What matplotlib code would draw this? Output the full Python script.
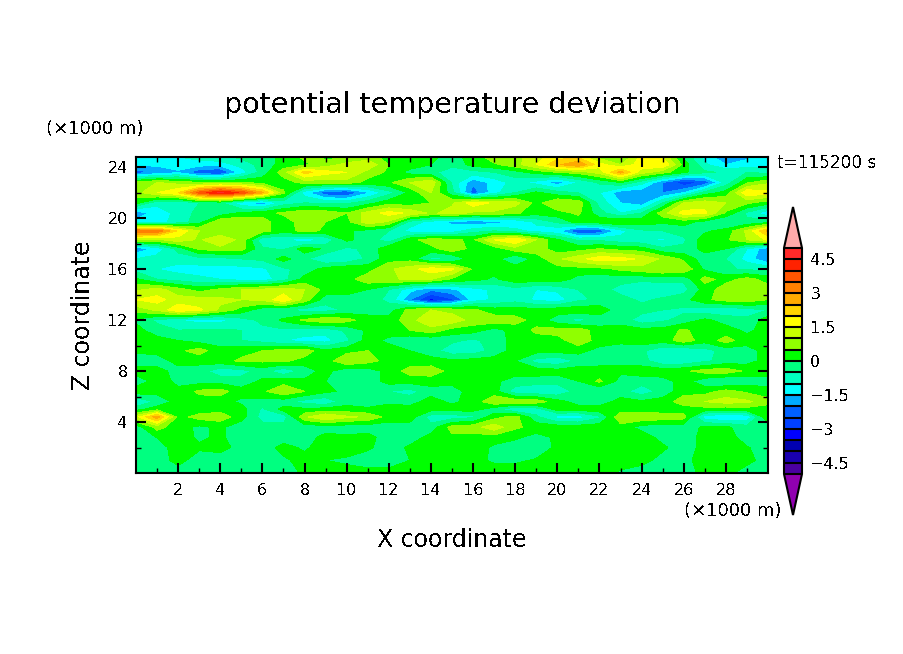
import matplotlib
matplotlib.use("Agg")
import matplotlib.pyplot as plt
import numpy as np

plt.rcParams['text.antialiased'] = False
plt.rcParams['font.family'] = 'DejaVu Sans'

# one row per height (top to bottom), x every 1 km
x_km = list(range(31))
z_km = [24.8, 24.2, 23.6, 22.8, 22, 21.2, 20.4, 19.7, 19, 18.3, 17.6, 16.8, 16, 15.2, 14.4, 13.6, 12.8,
        12, 11.2, 10.4, 9.6, 8.8, 8, 7.2, 6.4, 5.6, 5, 4.4, 3.6, 2.8, 2, 1, 0]
theta = [
    [-1.1, -1.2, -1.0, -.8, -.6, -.4, -.3, .2, .6, .4, .4, .7, .3, .3, .1, -.2, .2, .8, .8, 1.3, 1.8, 1.9, .8, .3, 1.7, 1.4, -.1, -1.2, -1.9, -1.6, -1.3],
    [-1.4, -1.4, -1.2, -1.3, -1.3, -.8, -.3, .2, .4, .7, 1.2, 1.4, .5, .3, 0, -.4, .2, .4, .8, 1.5, 2.4, 3.0, 1.7, 1.0, 1.8, 2.0, .3, -.9, -1.5, -1.3, -1.2],
    [-2.3, -1.9, -1.6, -2.4, -2.6, -1.3, -.3, .8, 2.2, 1.7, 1.5, .8, .4, -.2, -.4, -.7, -.7, -.5, -.2, .2, .5, .7, 1.2, 2.7, 1.2, .7, .1, -.4, -.6, -.5, -.7],
    [.6, 1.0, .8, .5, .5, .5, .3, .2, .7, .7, .8, .3, .4, 1.0, 1.4, -.6, -1.9, -1.3, -.8, -1.2, -1.8, -1.0, -.4, 0, -.8, -2.0, -2.9, -2.4, -.8, .4, .9],
    [.8, 1.5, 2.0, 3.7, 4.6, 3.9, 2.6, .6, -1.3, -2.4, -2.6, -1.6, -.7, .1, 1.0, -.3, -2.3, -1.2, -.5, .1, -.3, -.5, -1.0, -1.8, -1.9, -2.0, -1.5, -.3, .2, 1.9, 1.7],
    [.2, -.9, -1.0, -.5, -.4, -1.4, -1.9, -.8, -.5, -.6, -.6, -.2, .3, .2, .5, .9, 1.8, 1.4, 1.2, .3, 1.0, .8, -.7, -1.5, -1.8, -.5, 1.0, 1.3, 1.0, .6, .2],
    [-1.9, -1.2, -.9, -.3, -.3, .1, .3, .6, .9, .8, .5, 1.2, 1.7, 1.4, .9, 1.2, .9, .9, .6, .2, .3, .6, -.3, -1.0, -.5, .8, 1.7, 1.6, .4, -.6, -1.4],
    [-1.3, -1.2, -.8, -.2, .9, 1.0, .7, .2, .8, .5, .3, 1.3, .9, -.7, -1.2, -1.6, -1.9, -1.7, -1.5, -.9, -.4, .2, .3, .5, .3, .1, .2, -.2, -.6, -.4, -.2],
    [3.5, 3.4, 1.9, 1.0, .5, .8, .7, .2, .7, .4, .1, -.2, -.5, -1.2, -1.5, -1.3, -.7, -.5, -.8, -1.2, -1.4, -2.6, -2.4, -1.2, -.6, -.5, -.3, -.1, .2, 1.1, 2.6],
    [.9, .9, 1.3, .9, 1.5, .8, -.9, -1.0, -1.4, -.9, .1, -.2, -.8, .3, .8, .6, .4, 1.5, 2.0, 1.0, .1, -.6, -.6, -.8, -.9, -1.1, -.6, .3, .4, 1.0, 1.6],
    [-1.9, -1.3, -.3, .6, .8, .7, -.4, -.6, .3, -.1, -.6, -.4, .4, .5, .3, .9, .3, .2, .8, .8, .2, .3, .5, .3, .2, -.4, -.4, .2, 0, -1.0, -1.9],
    [-1.0, -.8, -.8, -.7, -.7, -.5, -.4, .2, -.4, -1.0, -.9, -.4, .3, .3, -.6, -.6, .3, .2, -.5, .2, .9, 1.3, 1.8, 1.7, 1.4, .9, .4, -.3, -.5, -1.2, -2.0],
    [-.7, -1.0, -1.2, -1.2, -1.2, -1.2, -1.1, -.6, -.3, .2, .4, .3, .9, 1.3, 1.8, 1.6, .4, .2, .3, .3, .3, .3, .3, .6, .8, 1.0, .9, -.1, -.4, -.6, -.6],
    [.1, -.5, -.7, -.9, -1.0, -1.2, -1.3, -.7, .2, .3, .3, .8, .9, 1.1, 1.0, .4, .2, -.1, .3, .3, .3, -.2, -.3, -.3, -.4, -.3, -.4, .7, .3, .7, .3],
    [.9, 1.2, .7, .3, .6, 1.0, 1.1, 1.2, 1.0, .3, .2, 0, -.5, -1.3, -1.9, -1.6, -1.2, -.9, -.7, -1.0, -.9, -.5, -.3, -.7, -.9, -.9, -.7, .2, .8, .9, .7],
    [1.5, 1.7, 1.2, 1.2, 1.1, 1.0, 1.1, 1.9, .8, -.3, -.2, -.3, -.6, -2.0, -3.2, -2.6, -1.3, -.9, -.7, -1.1, -1.3, -.6, -.4, -.3, -.6, -.4, -.2, .4, .7, .8, .5],
    [.7, 1.1, 1.9, 1.6, .9, .3, -.3, -.5, -.7, -.7, -.4, -.2, -.3, .7, 1.0, .8, .6, .2, .2, .2, .3, .3, .3, -.3, -.3, -.5, -.6, -.8, -.9, -.7, -.5],
    [-.1, -.6, -1.0, -1.2, -1.2, -.7, -.4, .1, .6, .9, .7, .2, .2, .8, 1.4, 1.3, .8, .8, .7, .3, -.3, -.7, -.3, -.2, -.8, -.6, -.3, .1, -.2, -.4, .3],
    [.2, -.3, -.5, -.4, -.4, -.5, -.6, -.6, -.7, -.8, -.4, .1, .2, .5, .8, .3, .2, -.2, .2, .6, .7, .8, .2, .2, .2, .2, .6, .2, .2, -.1, .2],
    [.3, .2, 0, -.2, -.3, -.5, -.7, -1.0, -1.2, -1.2, -.6, .2, -.1, -.4, -.4, -.4, -.6, -.3, .2, .3, .3, .8, .3, .2, .3, .2, .8, .2, .7, .2, .1],
    [.1, .2, .4, .7, .2, .3, .5, .7, .8, .1, .3, .5, .2, 0, -.3, -.8, -.8, -.3, .2, .2, .2, .2, -.2, -.4, -.4, -.9, -1.0, -.7, -.3, -.2, .2],
    [-.3, -.3, .2, .2, .3, .6, .6, .6, .3, .2, 1.0, .7, .3, .2, .2, .1, .2, .2, 0, -.7, -.9, -.4, -.2, -.1, -.3, -.9, -.9, -.6, -.3, -.2, .2],
    [.2, .2, -.2, -.3, -.8, -.7, -.3, -.9, -.3, .2, -.4, -.3, .2, .7, .8, .3, .2, .3, .2, .3, .2, .3, .2, .1, .3, .3, .4, .7, .8, .4, .2],
    [-.3, .2, -.1, -.2, -.2, -.3, .1, .3, .1, 0, -.2, -.3, .2, .2, .2, .2, .2, .1, -.2, -.3, -.3, 0, .6, -.2, -.3, -.2, .2, -.3, -.6, -.3, -.2],
    [.3, .2, .1, .6, .7, .2, .4, .9, .5, .1, -.1, -.2, -.5, -.7, -.2, -.3, .3, .2, -.8, -.9, -.9, -.3, -.5, -.3, -.8, -.3, .3, .3, .7, .4, .2],
    [-1.0, -.4, .2, .3, .2, -.1, -.2, -.3, -.7, -.9, -.2, -.3, -.1, -.2, .2, -.1, .2, .9, .9, .8, .2, -.2, -.3, .2, .1, .2, .8, 1.0, 1.2, 1.1, .7],
    [-.2, .3, .2, .2, .3, .2, -.6, .2, .1, .2, .2, .1, .2, .2, .2, .2, .2, -.3, -1.0, -.8, .2, .2, .3, .2, .2, .2, .2, .3, .2, .3, .2],
    [1.3, 2.8, .3, .7, .8, .2, -.7, -.8, .9, 1.5, 1.1, .9, .3, .3, -.8, -.8, -.6, .3, .7, -.4, -1.2, -1.3, -.6, .9, .9, .8, .7, -1.3, -1.6, -1.4, .5],
    [-.3, .7, .2, -.1, .1, -.3, -.3, -.3, -.3, -.3, -.3, -.3, -.3, -.3, -.3, .7, .8, 1.3, .6, .3, .3, .3, .3, .3, -.2, -.3, -.3, .1, .1, -.3, -.3],
    [-.3, .02, .3, -.1, .1, -.3, -.3, -.3, -.3, .2, .1, .2, -.3, -.3, .2, .4, .3, .25, .1, -.2, .1, .3, .3, .3, .3, -.2, -.3, .2, .3, -.3, -.3],
    [-.3, -.3, .3, .1, .2, -.2, -.3, .2, -.1, .3, .3, .1, -.3, .1, .3, .3, .3, -.1, -.3, -.3, .1, .3, .3, .3, .3, .1, -.3, .2, .3, .05, -.3],
    [-.3, -.3, .2, -.3, -.3, -.3, -.3, -.1, .2, 0, -.1, -.3, -.3, 0, .3, .3, .2, -.1, -.1, .05, .3, .3, .3, .3, .2, -.2, -.2, .3, .3, .2, -.3],
    [-.3, -.3, -.3, -.3, -.3, -.3, -.3, -.3, .1, .2, .2, .2, .2, .3, .3, .3, .3, .3, .3, .3, .3, .3, .3, -.1, -.3, -.3, -.3, .2, .2, -.3, -.3],
]
levels = np.arange(-5, 5.5, 0.5)
band_colors = ['#4b00a0', '#1a00b0', '#0000b0', '#0000ff', '#0040ff', '#0060ff', '#00aaff', '#00ffff',
               '#00ffc0', '#00ff80', '#00ff00', '#90ff00', '#c8ff00', '#ffff00', '#ffd500', '#ffaa00',
               '#ff8000', '#ff5500', '#ff2200', '#ff2a2a']
cbar_ticks = [-4.5, -3, -1.5, 0, 1.5, 3, 4.5]
W, H = 904, 654


def box(x0, y0, x1, y1):
    return [x0 / W, 1 - y1 / H, (x1 - x0) / W, (y1 - y0) / H]


def label(x, y, s, **kw):
    fig.text(x / W, 1 - y / H, s, ha=kw.pop('ha', 'center'), va='center', **kw)


fig = plt.figure(figsize=(W / 100, H / 100), dpi=100)
ax = fig.add_axes(box(136, 157, 768, 473))
cf = ax.contourf(x_km, z_km, theta, levels=levels, colors=band_colors, extend='both', antialiased=False)
cf.cmap.set_over('#ffaaaa')
cf.cmap.set_under('#9000b0')
cf.changed()

ax.set_xlim(0, 30)
ax.set_ylim(0, 24.8)
ax.set_xticks(range(2, 30, 2))
ax.set_xticks(range(1, 30, 2), minor=True)
ax.set_yticks(range(4, 25, 4))
ax.set_yticks(range(2, 25, 4), minor=True)
ax.tick_params(which='major', direction='in', length=7, width=1.5, top=True, right=True, labelsize=11.5)
ax.tick_params(axis='x', which='major', pad=7.5)
ax.tick_params(axis='y', which='major', pad=6)
ax.tick_params(which='minor', direction='in', length=3.5, width=1, top=True, right=True)
for s in ax.spines.values():
    s.set_linewidth(1.5)

cax = fig.add_axes(box(784, 207, 802, 515))
cb = fig.colorbar(cf, cax=cax, extend='both', extendfrac=41 / 226, drawedges=True, ticks=cbar_ticks)
cb.ax.set_yticklabels(['\u22124.5', '\u22123', '\u22121.5', '0', '1.5', '3', '4.5'])
cb.ax.tick_params(length=0, labelsize=11.5, pad=6)
cb.outline.set_linewidth(1.5)
cb.dividers.set_linewidth(1.5)
cb.dividers.set_color('black')

label(452, 105, 'potential temperature deviation', fontsize=20.5)
label(452, 540, 'X coordinate', fontsize=17)
label(83, 315, 'Z coordinate', fontsize=17, rotation=90)
label(95, 129, '(\u00d71000 m)', fontsize=13)
label(733, 511, '(\u00d71000 m)', fontsize=13)
label(827, 163, 't=115200 s', fontsize=12.2)

fig.savefig('out.png', dpi=100)
